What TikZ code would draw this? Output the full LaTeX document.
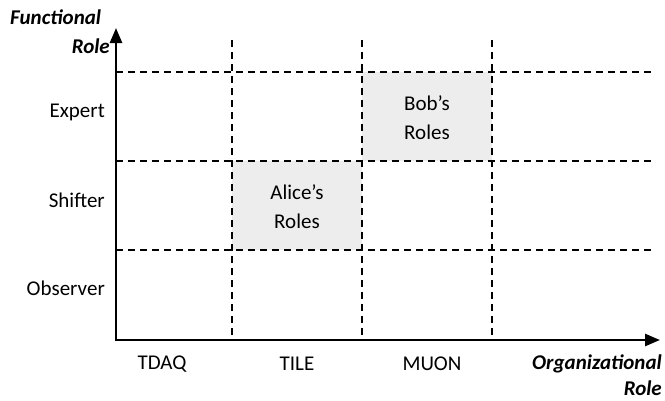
\documentclass[tikz,border=0pt]{standalone}
\usepackage{fontspec}
\setmainfont{Carlito}
\usetikzlibrary{arrows.meta}
\begin{document}
\begin{tikzpicture}[x=1pt,y=-1pt,
  grid/.style={line width=1.5pt,dash pattern=on 7pt off 5pt},
  axis/.style={line width=2.5pt,-{Triangle[length=15pt,width=12pt]}},
  cell/.style={fill=black!7,draw=none},
  lab/.style={font=\fontsize{21}{25}\selectfont,inner sep=0pt},
  ttl/.style={font=\fontsize{21}{25}\selectfont\bfseries\itshape,inner sep=0pt}]
\useasboundingbox (0,0) rectangle (665,400);
% shaded cells
\path[cell] (362,72) rectangle (492,161);
\path[cell] (232,161) rectangle (362,250);
\node[lab,align=center] (bob) at (427,118) {Bob’s\\[4pt]Roles};
\node[lab,align=center] (alice) at (297,207) {Alice’s\\[4pt]Roles};
% grid
\coordinate (o) at (116,340);
\foreach \x in {232,362,492} \draw[grid] (\x,40) -- (\x,340);
\foreach \y in {72,161,250} \draw[grid] (116,\y) -- (655,\y);
% axes
\coordinate (ytip) at (116,28);
\coordinate (xtip) at (660,340);
\draw[axis] (116,341.25) -- (ytip);
\draw[axis] (114.75,340) -- (xtip);
% labels
\node[lab,anchor=east] (exp) at (105,112) {Expert};
\node[lab,anchor=east] (shf) at (105,200) {Shifter};
\node[lab,anchor=east] (obs) at (105,288) {Observer};
\node[lab] (tdaq) at (162,364) {TDAQ};
\node[lab] (tile) at (297,364) {TILE};
\node[lab] (muon) at (432,364) {MUON};
\node[ttl,anchor=west] (fr1) at (10,17) {Functional};
\node[ttl,anchor=east] (fr2) at (110,46) {Role};
\node[ttl,anchor=east] (or1) at (662,364) {Organizational};
\node[ttl,anchor=east] (or2) at (662,388) {Role};
\end{tikzpicture}
\end{document}
